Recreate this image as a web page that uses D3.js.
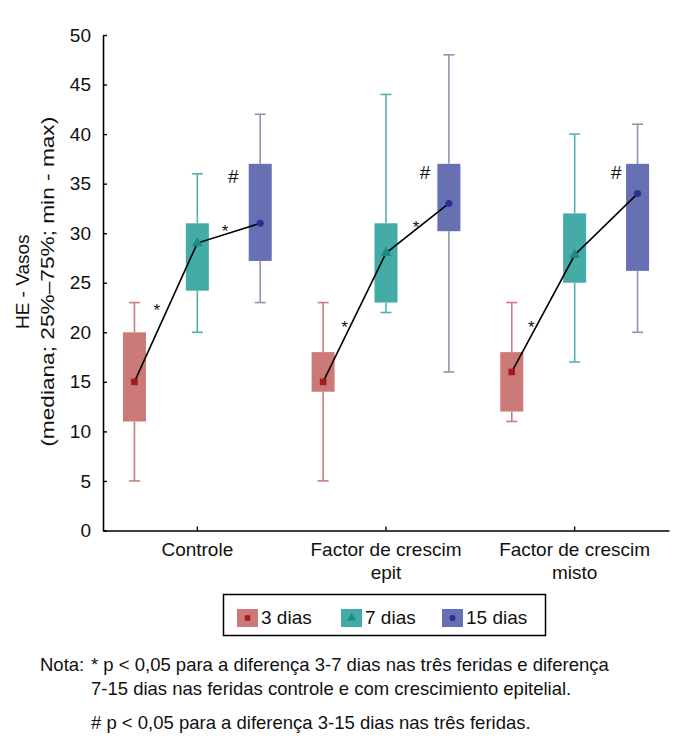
<!DOCTYPE html>
<html>
<head>
<meta charset="utf-8">
<script src="https://cdn.jsdelivr.net/npm/d3@7"></script>
<style>
  html, body { margin: 0; padding: 0; background: #fff; }
  svg { display: block; font-family: "Liberation Sans", Arial, Helvetica, sans-serif; }
</style>
</head>
<body>
<svg id="chart" width="700" height="745"></svg>
<script>
// ---------- data ----------
const categories = ["Controle", "Factor de crescim epit", "Factor de crescim misto"];
const categoryLines = [["Controle"], ["Factor de crescim", "epit"], ["Factor de crescim", "misto"]];
const seriesNames = ["3 dias", "7 dias", "15 dias"];

// per series, values for [Controle, epit, misto]
const min3 = [5, 5, 11],    q1_3 = [11, 14, 12],     med3 = [15, 15, 16],   q3_3 = [20, 18, 18], max3 = [23, 23, 23];
const min7 = [20, 22, 17],  q1_7 = [24.2, 23, 25],   med7 = [29, 28, 27.8], q3_7 = [31, 31, 32], max7 = [36, 44, 40];
const min15 = [23, 16, 20], q1_15 = [27.2, 30.2, 26.2], med15 = [31, 33, 34], q3_15 = [37, 37, 37], max15 = [42, 48, 41];

const yTicks = [0, 5, 10, 15, 20, 25, 30, 35, 40, 45, 50];

// significance marks: symbol, category index, slot position (-1..1), value
const markSymbols = ["*", "*", "#", "*", "*", "#", "*", "#"];
const markCategory = [0, 0, 0, 1, 1, 1, 2, 2];
const markSlot = [-0.645, 0.44, 0.57, -0.66, 0.48, 0.62, -0.69, 0.66];
const markValue = [22.7, 30.6, 35.7, 20.9, 31.0, 36.1, 20.9, 36.1];

const yLabel1 = "HE - Vasos";
const yLabel2 = "(mediana; 25%\u201375%; min - max)";
const noteLines = [
  "* p < 0,05 para a diferença 3-7 dias nas três feridas e diferença",
  "7-15 dias nas feridas controle e com crescimiento epitelial.",
  "# p < 0,05 para a diferença 3-15 dias nas três feridas."
];

// ---------- styles ----------
const boxColors = ["#cc7a78", "#44aba6", "#6870b4"];
const whiskerColors = ["#c97c7a", "#55b0ac", "#9393ad"];
const markerColors = ["#a31c1c", "#1f8c84", "#283090"];
const FONT = 19;

const svg = d3.select("#chart");
const plot = { left: 103, right: 669, top: 35, bottom: 530.5 };

const x = d3.scaleBand().domain(categories).range([plot.left, plot.right]).padding(0);
const y = d3.scaleLinear().domain([0, 50]).range([plot.bottom, plot.top]);
const slot = x.bandwidth() / 3;
const boxW = x.bandwidth() * 0.122;
const capW = 11;

const series = [
  { name: seriesNames[0], min: min3, q1: q1_3, med: med3, q3: q3_3, max: max3 },
  { name: seriesNames[1], min: min7, q1: q1_7, med: med7, q3: q3_7, max: max7 },
  { name: seriesNames[2], min: min15, q1: q1_15, med: med15, q3: q3_15, max: max15 }
];
const cx = (ci, si) => x(categories[ci]) + x.bandwidth() / 2 + (si - 1) * slot;

// axes
const yAxis = d3.axisLeft(y).tickValues(yTicks).tickSizeInner(-4).tickSizeOuter(0).tickPadding(12);
const gy = svg.append("g").attr("transform", `translate(${plot.left},0)`).call(yAxis);
gy.select(".domain").attr("stroke", "#000").attr("stroke-width", 1.6);
gy.selectAll(".tick line").attr("stroke", "#000").attr("stroke-width", 1.4);
gy.selectAll(".tick text").attr("font-size", FONT).attr("fill", "#111").attr("font-family", "Liberation Sans, Arial, sans-serif");

const xAxis = d3.axisBottom(x).tickSizeInner(-4).tickSizeOuter(0).tickFormat("");
const gx = svg.append("g").attr("transform", `translate(0,${plot.bottom})`).call(xAxis);
gx.select(".domain").attr("stroke", "#000").attr("stroke-width", 1.6);
gx.selectAll(".tick line").attr("stroke", "#000").attr("stroke-width", 1.4);

// category labels
categories.forEach((c, i) => {
  const t = svg.append("text").attr("text-anchor", "middle").attr("font-size", FONT).attr("fill", "#111")
    .attr("x", x(c) + x.bandwidth() / 2).attr("y", 556);
  categoryLines[i].forEach((ln, k) => {
    t.append("tspan").attr("x", x(c) + x.bandwidth() / 2).attr("dy", k === 0 ? 0 : 23).text(ln);
  });
});

// y label
const ymid = (plot.top + plot.bottom) / 2 - 1;
svg.append("text").attr("transform", `translate(29,${ymid}) rotate(-90)`).attr("text-anchor", "middle")
  .attr("font-size", FONT).attr("fill", "#111").text(yLabel1);
svg.append("text").attr("transform", `translate(54,${ymid}) rotate(-90)`).attr("text-anchor", "middle")
  .attr("font-size", FONT).attr("fill", "#111")
  .attr("textLength", 330).attr("lengthAdjust", "spacingAndGlyphs").text(yLabel2);

// boxes
series.forEach((s, si) => {
  const g = svg.append("g");
  categories.forEach((c, ci) => {
    const px = cx(ci, si);
    g.append("line").attr("x1", px).attr("x2", px).attr("y1", y(s.max[ci])).attr("y2", y(s.q3[ci]))
      .attr("stroke", whiskerColors[si]).attr("stroke-width", 1.6);
    g.append("line").attr("x1", px).attr("x2", px).attr("y1", y(s.q1[ci])).attr("y2", y(s.min[ci]))
      .attr("stroke", whiskerColors[si]).attr("stroke-width", 1.6);
    g.append("line").attr("x1", px - capW / 2).attr("x2", px + capW / 2).attr("y1", y(s.max[ci])).attr("y2", y(s.max[ci]))
      .attr("stroke", whiskerColors[si]).attr("stroke-width", 1.6);
    g.append("line").attr("x1", px - capW / 2).attr("x2", px + capW / 2).attr("y1", y(s.min[ci])).attr("y2", y(s.min[ci]))
      .attr("stroke", whiskerColors[si]).attr("stroke-width", 1.6);
    g.append("rect").attr("x", px - boxW / 2).attr("width", boxW)
      .attr("y", y(s.q3[ci])).attr("height", y(s.q1[ci]) - y(s.q3[ci]))
      .attr("fill", boxColors[si]);
  });
});

// connecting median lines
const line = d3.line().x(d => d[0]).y(d => d[1]);
categories.forEach((c, ci) => {
  const pts = series.map((s, si) => [cx(ci, si), y(s.med[ci])]);
  svg.append("path").attr("d", line(pts)).attr("fill", "none").attr("stroke", "#000").attr("stroke-width", 1.6);
});

// median markers
const symTypes = [d3.symbolSquare, d3.symbolTriangle, d3.symbolCircle];
const symSizes = [44, 50, 40];
function drawMarker(g, si, px, py, scale) {
  g.append("path").attr("d", d3.symbol().type(symTypes[si]).size(symSizes[si] * (scale || 1))())
    .attr("transform", `translate(${px},${py})`).attr("fill", markerColors[si]);
}
series.forEach((s, si) => {
  categories.forEach((c, ci) => drawMarker(svg, si, cx(ci, si), y(s.med[ci])));
});

// significance marks
markSymbols.forEach((sym, i) => {
  const px = x(categories[markCategory[i]]) + x.bandwidth() / 2 + markSlot[i] * slot;
  const py = y(markValue[i]);
  svg.append("text").attr("x", px).attr("y", sym === "*" ? py + 10 : py + 6.5)
    .attr("text-anchor", "middle").attr("font-size", sym === "*" ? 17 : 19)
    .attr("fill", "#111").text(sym);
});

// legend
const legend = svg.append("g");
legend.append("rect").attr("x", 223.5).attr("y", 594.5).attr("width", 322).attr("height", 41)
  .attr("fill", "#fff").attr("stroke", "#000").attr("stroke-width", 1.5);
const legX = [237, 341, 442];
seriesNames.forEach((n, si) => {
  legend.append("rect").attr("x", legX[si]).attr("y", 609).attr("width", 21).attr("height", 18).attr("fill", boxColors[si]);
  drawMarker(legend, si, legX[si] + 10.5, 618, 0.7);
  legend.append("text").attr("x", legX[si] + 24).attr("y", 624).attr("font-size", FONT).attr("fill", "#111").text(n);
});

// notes
svg.append("text").attr("x", 40).attr("y", 671).attr("font-size", 18.5).attr("fill", "#111").text("Nota:");
const noteY = [671, 695, 729];
noteLines.forEach((ln, i) => {
  svg.append("text").attr("x", 91).attr("y", noteY[i]).attr("font-size", 18.5).attr("fill", "#111").text(ln);
});
</script>
</body>
</html>
